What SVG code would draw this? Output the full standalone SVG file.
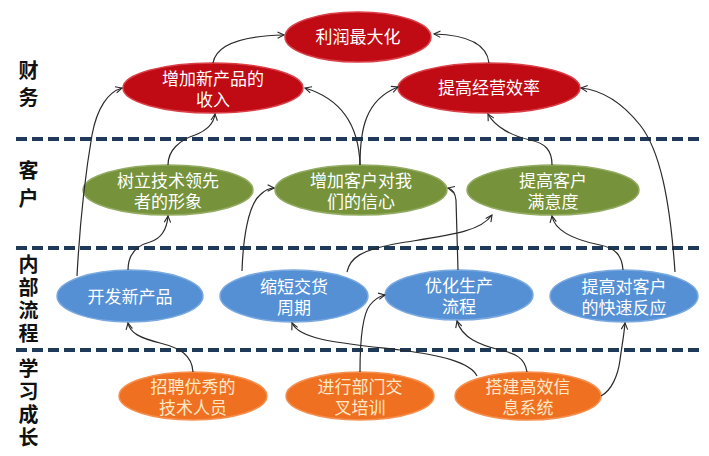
<svg xmlns="http://www.w3.org/2000/svg" width="709" height="456" viewBox="0 0 709 456">
<defs>
<marker id="ah" viewBox="0 0 10 10" refX="9" refY="5" markerWidth="8" markerHeight="8" markerUnits="userSpaceOnUse" orient="auto">
<path d="M1,1 L9,5 L1,9" fill="none" stroke="#2a2a2a" stroke-width="1.4"/>
</marker>
</defs>
<style>
.bg{fill:#ffffff}
.dash{stroke:#1f3a58;stroke-width:4;stroke-dasharray:11 5;fill:none}
.lab{font-family:"Liberation Sans","Noto Sans CJK SC",sans-serif;font-size:20px;font-weight:700;fill:#111;writing-mode:vertical-rl;text-orientation:upright;text-anchor:start}
.t{font-family:"Liberation Sans","Noto Sans CJK SC",sans-serif;font-size:17px;text-anchor:middle;fill:#ffffff}
.red ellipse{fill:#c00a14;stroke:#d94048;stroke-width:1.5}
.green ellipse{fill:#76933c;stroke:#93ab62;stroke-width:1.5}
.blue ellipse{fill:#5590d5;stroke:#7aa9e0;stroke-width:1.5}
.orange ellipse{fill:#f07022;stroke:#f59050;stroke-width:1.5}
.orange text{fill:#fde8c8}
.c path{fill:none;stroke:#2a2a2a;stroke-width:1.2;marker-end:url(#ah)}
</style>
<rect class="bg" x="0" y="0" width="709" height="456"/>
<g id="lanes">
<line class="dash" x1="16" y1="139" x2="702" y2="139"/>
<line class="dash" x1="16" y1="248" x2="702" y2="248"/>
<line class="dash" x1="16" y1="350" x2="702" y2="350"/>
<text class="lab" x="27" y="60" letter-spacing="7">财务</text>
<text class="lab" x="27" y="160" letter-spacing="8">客户</text>
<text class="lab" x="27" y="254" letter-spacing="3">内部流程</text>
<text class="lab" x="27" y="358" letter-spacing="3.3">学习成长</text>
</g>
<g id="n1" class="red"><ellipse cx="358" cy="37" rx="73" ry="25"/><text class="t" x="358" y="43">利润最大化</text></g>
<g id="n2" class="red"><ellipse cx="213" cy="88" rx="90" ry="25"/><text class="t" x="213" y="85">增加新产品的<tspan x="213" dy="21">收入</tspan></text></g>
<g id="n3" class="red"><ellipse cx="489" cy="88" rx="91" ry="25"/><text class="t" x="489" y="94">提高经营效率</text></g>
<g id="n4" class="green"><ellipse cx="168" cy="190" rx="85" ry="25"/><text class="t" x="168" y="187">树立技术领先<tspan x="168" dy="21">者的形象</tspan></text></g>
<g id="n5" class="green"><ellipse cx="361" cy="190" rx="86" ry="25"/><text class="t" x="361" y="187">增加客户对我<tspan x="361" dy="21">们的信心</tspan></text></g>
<g id="n6" class="green"><ellipse cx="553" cy="190" rx="86" ry="25"/><text class="t" x="553" y="187">提高客户<tspan x="553" dy="21">满意度</tspan></text></g>
<g id="n7" class="blue"><ellipse cx="130" cy="296" rx="73" ry="26"/><text class="t" x="130" y="303">开发新产品</text></g>
<g id="n8" class="blue"><ellipse cx="294" cy="296" rx="74" ry="26"/><text class="t" x="294" y="293">缩短交货<tspan x="294" dy="21">周期</tspan></text></g>
<g id="n9" class="blue"><ellipse cx="459" cy="295" rx="74" ry="25"/><text class="t" x="459" y="292">优化生产<tspan x="459" dy="21">流程</tspan></text></g>
<g id="n10" class="blue"><ellipse cx="624" cy="296" rx="74" ry="26"/><text class="t" x="624" y="293">提高对客户<tspan x="624" dy="21">的快速反应</tspan></text></g>
<g id="n11" class="orange"><ellipse cx="193" cy="396" rx="74" ry="24"/><text class="t" x="193" y="393">招聘优秀的<tspan x="193" dy="21">技术人员</tspan></text></g>
<g id="n12" class="orange"><ellipse cx="360" cy="396" rx="74" ry="24"/><text class="t" x="360" y="393">进行部门交<tspan x="360" dy="21">叉培训</tspan></text></g>
<g id="n13" class="orange"><ellipse cx="528" cy="396" rx="73" ry="24"/><text class="t" x="528" y="393">搭建高效信<tspan x="528" dy="21">息系统</tspan></text></g>
<g id="connectors" class="c">
<path d="M213,63 C216,45 240,36 284,35"/>
<path d="M489,63 C487,45 470,35 434,34"/>
<path d="M77,276 C80,220 86,170 92,135 C97,108 108,92 122,88"/>
<path d="M168,165 C168,150 180,140 195,135 C208,130 214,122 215,114"/>
<path d="M128,270 C128,255 135,246 150,242 C163,238 167,228 168,216"/>
<path d="M360,165 C359,130 345,100 305,88"/>
<path d="M360,165 C360,130 365,100 398,87"/>
<path d="M552,165 C552,150 545,143 530,140 C512,136 495,127 488,114"/>
<path d="M675,272 C670,200 660,150 640,125 C620,100 600,90 581,88"/>
<path d="M242,271 C243,240 248,205 260,195 C265,190 270,188 274,188"/>
<path d="M347,272 C350,258 360,250 400,243 C450,235 480,232 492,215"/>
<path d="M458,270 L456,200 C455,192 452,189 448,188"/>
<path d="M623,270 C622,255 615,248 600,245 C575,240 555,232 552,216"/>
<path d="M193,372 C192,355 180,348 160,343 C140,338 130,333 128,323"/>
<path d="M477,376 C470,362 440,355 400,350 C340,343 300,340 292,323"/>
<path d="M360,372 C360,340 362,315 370,305 C375,299 380,296 385,295"/>
<path d="M527,372 C525,358 515,353 500,350 C480,345 462,338 457,321"/>
<path d="M601,396 C612,390 618,375 620,360 C622,345 624,335 625,323"/>
</g>
</svg>
